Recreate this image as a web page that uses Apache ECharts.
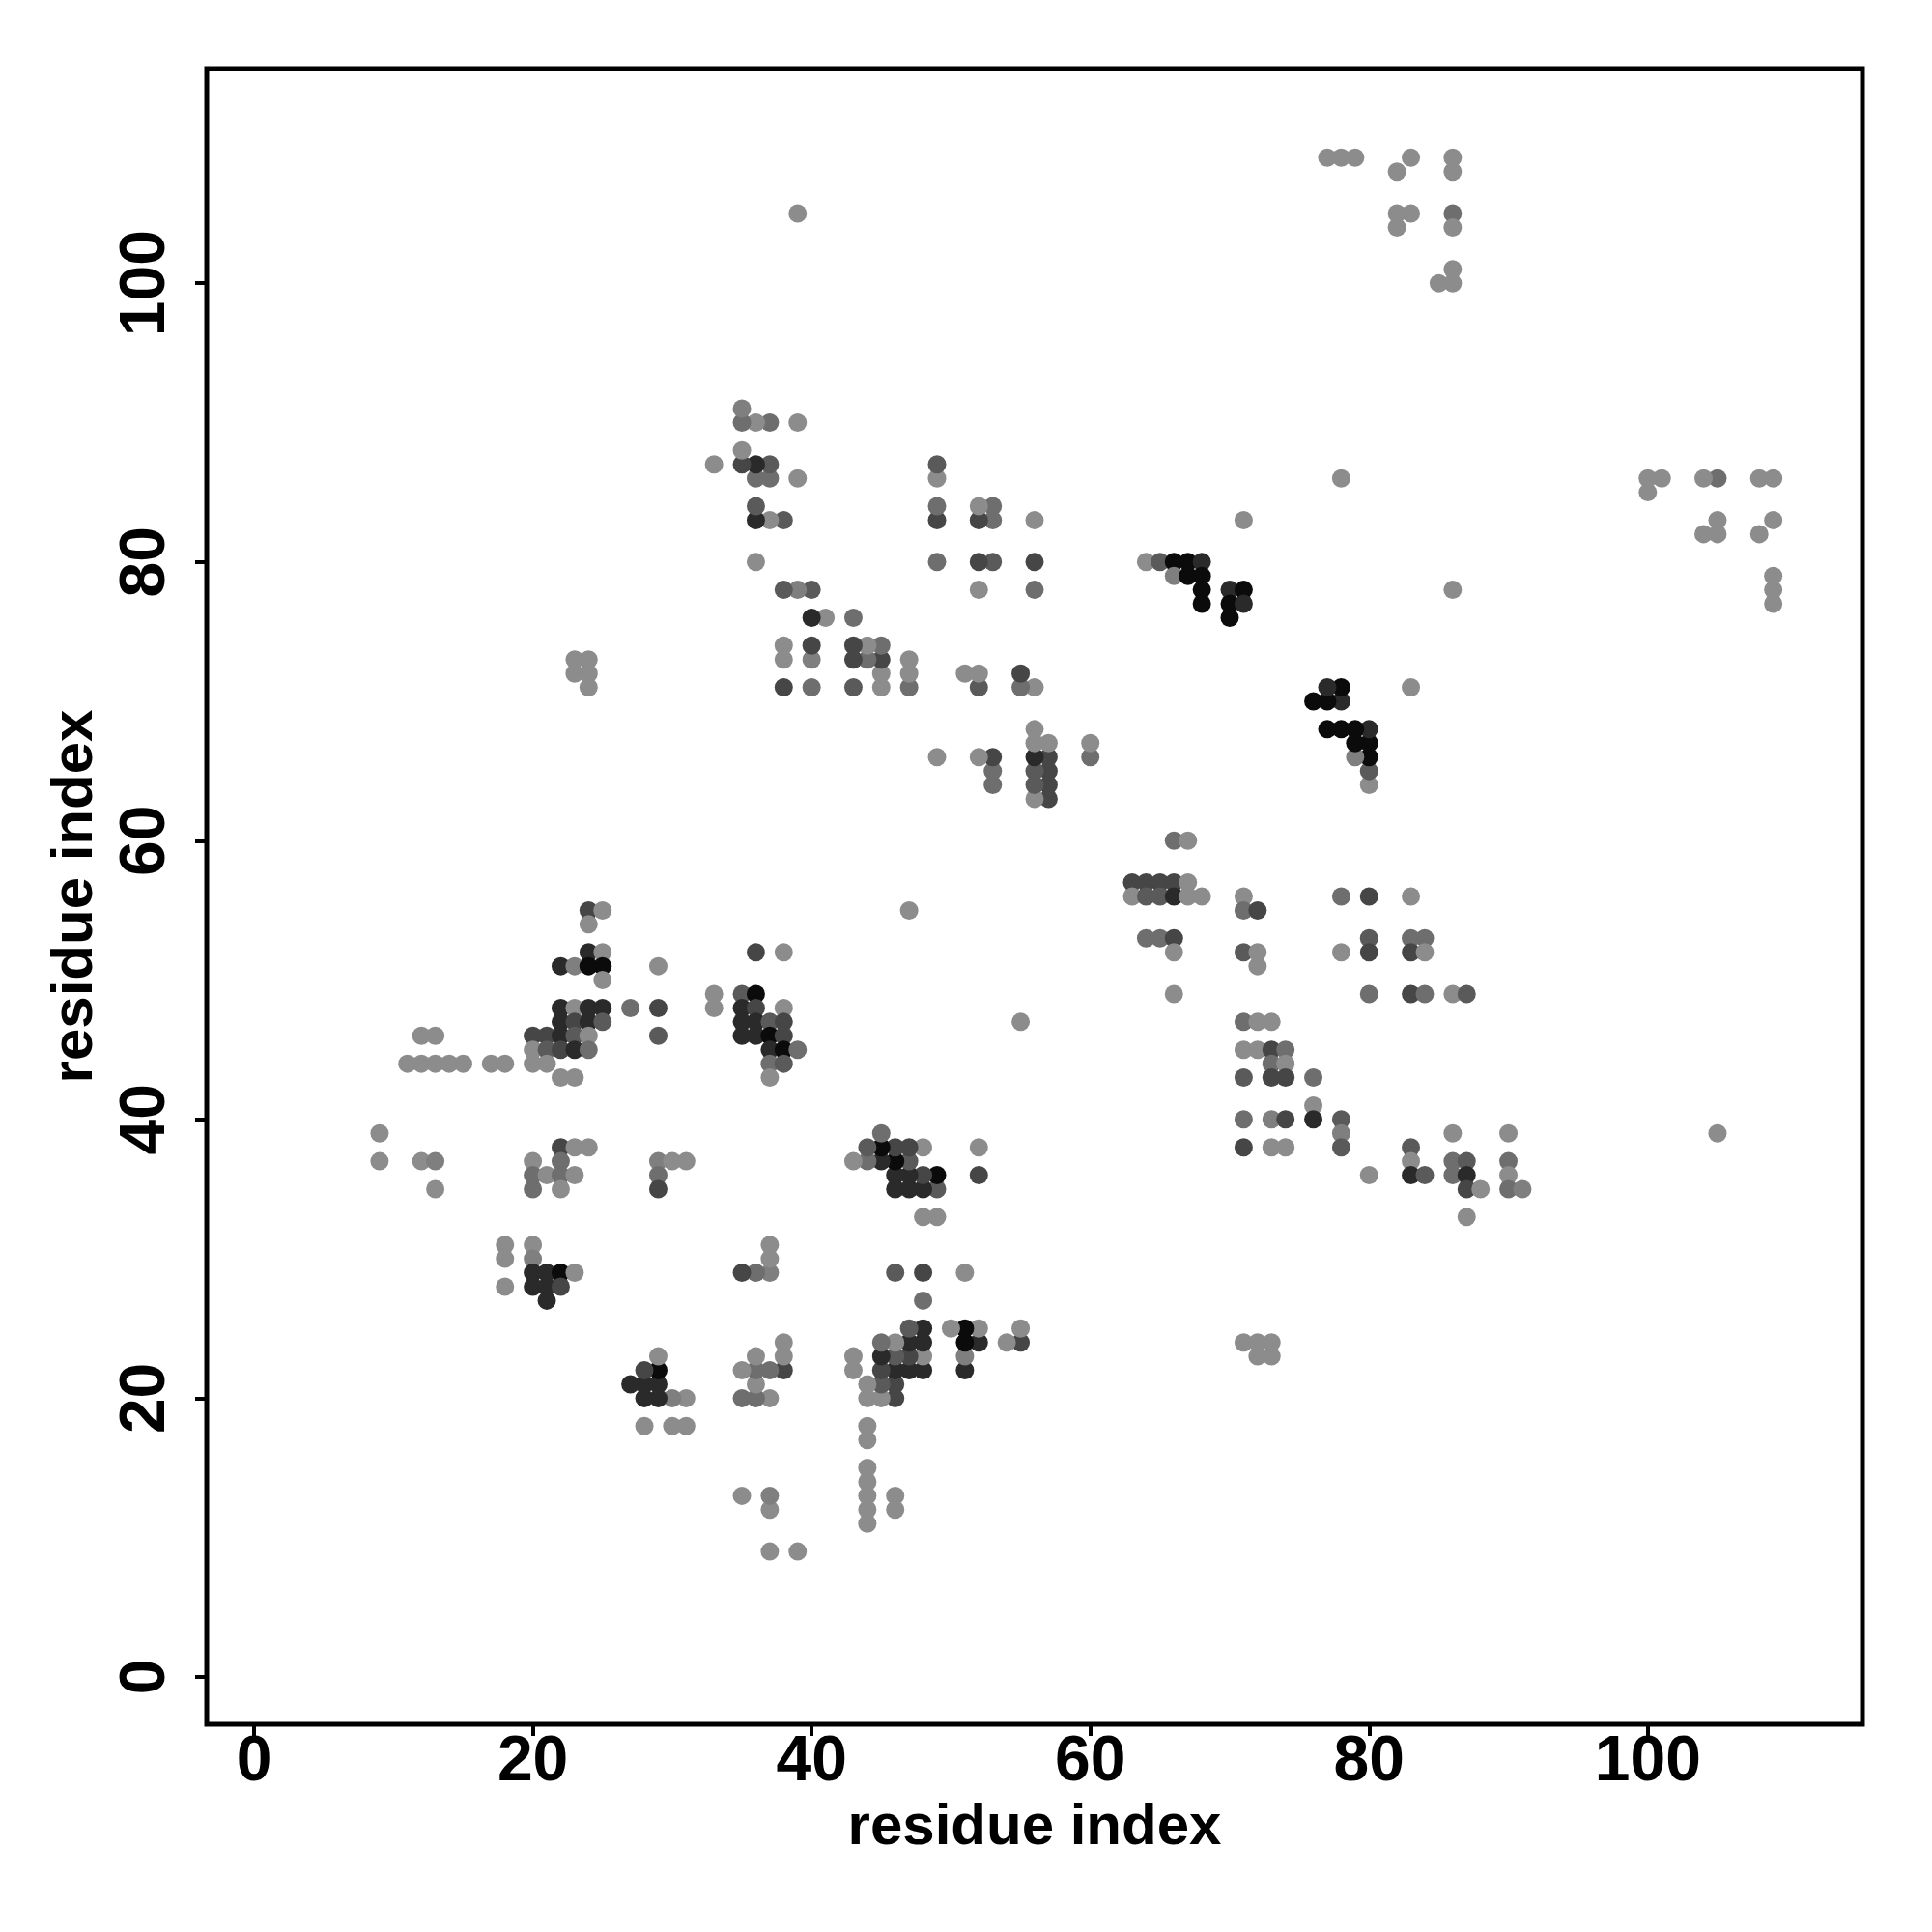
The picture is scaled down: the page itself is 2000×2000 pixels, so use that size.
<!DOCTYPE html>
<html>
<head>
<meta charset="utf-8">
<script src="https://cdn.jsdelivr.net/npm/echarts@6/dist/echarts.min.js"></script>
<style>
html,body{margin:0;padding:0;background:#ffffff;}
#chart{width:2000px;height:2000px;}
</style>
</head>
<body>
<div id="chart"></div>
<script>
// Each contact: [residue i, residue j, contact strength level 1 (weak) .. 7 (strong)]
// The map is symmetric: every contact is drawn at (i, j) and at (j, i).
const contactsTopRight = [
  [77,109,1],[78,109,1],[79,109,1],[83,109,1],[82,108,1],[86,109,1],[86,108,1],
  [82,105,1],[83,105,1],[82,104,1],[86,105,3],[86,104,1],[86,101,1],[85,100,1],[86,100,1]
];
const contactsIsolated = [
  [39,105,1],[78,86,1],[71,83,1],[47,55,1],
  [23,72,1],[23,73,1],[24,71,1],[24,72,1],[24,73,1]
];
const contactsStrongCore = [
  [64,80,1],[65,80,4],[66,80,7],[67,80,7],[68,80,6],
  [66,79,2],[67,79,7],[68,79,7],
  [68,78,7],[70,78,6],[71,78,7],
  [68,77,7],[70,77,7],[71,77,6],
  [70,76,7]
];
const contactsMiddle = [
  [60,66,3],[60,67,1],
  [57,63,5],[57,64,5],[57,65,5],[57,66,5],[57,67,1],
  [56,63,1],[56,64,4],[56,65,4],[56,66,6],[56,67,1],[56,68,1],[56,71,1],[56,78,3],[56,80,5],[56,83,1],
  [55,71,3],[55,72,5],
  [53,64,3],[53,65,3],[53,66,5],[53,80,4],[53,83,3],[53,84,3],
  [52,66,1],[52,71,4],[52,72,1],[52,78,1],[52,80,5],[52,83,5],[52,84,1],
  [51,72,1],
  [49,66,1],[49,80,3],[49,83,5],[49,84,3],[49,86,1],[49,87,4],
  [47,71,3],[47,72,1],[47,73,1],
  [45,71,1],[45,72,1],[45,73,5],[45,74,3],
  [44,73,3],[44,74,1],
  [43,71,4],[43,73,5],[43,74,5],[43,76,3],
  [41,76,1],
  [40,71,3],[40,73,2],[40,74,5],[40,76,6],[40,78,4],
  [39,78,2],[39,86,1],[39,90,1],
  [38,71,5],[38,73,1],[38,74,1],[38,78,4],[38,83,4],
  [37,83,1],[37,86,3],[37,87,4],[37,90,3],
  [36,80,1],[36,83,6],[36,84,4],[36,86,3],[36,87,6],[36,90,1],
  [35,87,5],[35,88,1],[35,90,3],[35,91,2],
  [33,87,1]
];
const contactsLeft = [
  [24,55,5],[25,55,1],[24,54,1],[24,52,6],[25,52,1],
  [22,51,6],[23,51,2],[24,51,7],[25,51,7],[25,50,1],
  [22,48,6],[23,48,1],[24,48,6],[25,48,6],[27,48,3],
  [22,47,6],[23,47,5],[24,47,6],[25,47,4],
  [12,46,1],[13,46,1],[20,46,5],[21,46,5],[22,46,6],[23,46,4],[24,46,1],
  [20,45,1],[21,45,4],[22,45,5],[23,45,6],[24,45,3],
  [11,44,1],[12,44,1],[13,44,1],[14,44,1],[15,44,1],[17,44,1],[18,44,1],[20,44,1],[21,44,1],
  [22,43,1],[23,43,1],
  [9,39,1],
  [22,38,5],[23,38,1],[24,38,1],
  [9,37,1],[12,37,1],[13,37,2],[20,37,1],[22,37,3],
  [20,36,3],[21,36,1],[22,36,3],[23,36,1],
  [13,35,1],[20,35,3],[22,35,1],
  [18,31,1],[20,31,1],
  [18,30,1],[20,30,2],
  [20,29,6],[21,29,6],[22,29,7],[23,29,1],
  [18,28,1],[20,28,6],[21,28,6],[22,28,5],
  [21,27,6]
];
const contactsLeftInner = [
  [36,52,5],[38,52,1],[29,51,1],
  [33,49,1],[35,49,4],[36,49,7],
  [29,48,5],[33,48,1],[35,48,6],[36,48,5],[38,48,1],
  [35,47,6],[36,47,6],[37,47,4],[38,47,5],
  [29,46,4],[35,46,6],[36,46,6],[37,46,7],[38,46,5],
  [37,45,6],[38,45,7],[39,45,3],
  [37,44,3],[38,44,4],
  [37,43,1],
  [29,37,2],[30,37,1],[31,37,1],[29,36,3],[29,35,5]
];
const tickValues = [0, 20, 40, 60, 80, 100];
const axisRange = [-3.4, 115.4];
const axisTitle = 'residue index';
const levelGreys = ['#8c8c8c', '#7f7f7f', '#6e6e6e', '#5a5a5a', '#464646', '#2a2a2a', '#0b0b0b'];

const allContacts = [].concat(contactsTopRight, contactsIsolated, contactsStrongCore,
  contactsMiddle, contactsLeft, contactsLeftInner);
const points = [];
allContacts.forEach(function (c) {
  points.push([c[0], c[1], c[2]]);
  points.push([c[1], c[0], c[2]]);
});

const fontFam = '"Liberation Sans", Arial, Helvetica, sans-serif';
function makeAxis(isY) {
  return {
    type: 'value',
    min: axisRange[0],
    max: axisRange[1],
    name: axisTitle,
    nameLocation: 'middle',
    nameGap: isY ? 106 : 70,
    nameTextStyle: { fontSize: 60, fontWeight: 'bold', color: '#000', fontFamily: fontFam },
    splitLine: { show: false },
    axisLine: { show: false, onZero: false },
    axisTick: { show: true, inside: false, length: 12, lineStyle: { color: '#000', width: 4 }, customValues: tickValues },
    axisLabel: {
      customValues: tickValues,
      fontSize: 66, fontWeight: 'bold', color: '#000', fontFamily: fontFam,
      margin: isY ? 29 : 7,
      rotate: isY ? 90 : 0
    }
  };
}

const chart = echarts.init(document.getElementById('chart'), null, { renderer: 'canvas' });
chart.setOption({
  animation: false,
  backgroundColor: '#ffffff',
  grid: { left: 214, top: 71, width: 1714, height: 1714, show: true, borderColor: '#000', borderWidth: 5, backgroundColor: 'transparent' },
  xAxis: makeAxis(false),
  yAxis: makeAxis(true),
  visualMap: { show: false, type: 'continuous', min: 1, max: 7, dimension: 2, inRange: { color: levelGreys } },
  series: [{
    type: 'scatter',
    data: points,
    symbol: 'circle',
    symbolSize: 19,
    itemStyle: { opacity: 1 }
  }]
});
</script>
</body>
</html>
